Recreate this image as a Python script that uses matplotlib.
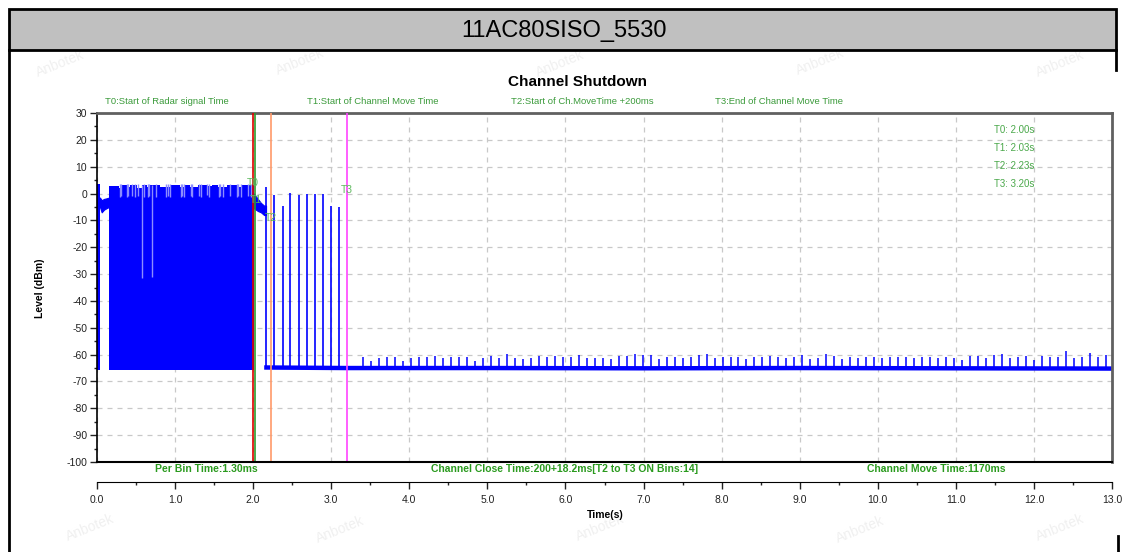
import numpy as np
import matplotlib
matplotlib.use('Agg')
import matplotlib.pyplot as plt
from matplotlib.patches import Rectangle
from matplotlib.lines import Line2D

plt.rcParams['font.family'] = ['Liberation Sans', 'DejaVu Sans']
plt.rcParams['axes.unicode_minus'] = False

# ---- data (time in s, level in dBm) ----
# first column and the low-level segment before the radar burst
start_t = [0.0, 0.038]
start_top = [3.5, -1.5]
pre_t = [0.038, 0.06, 0.09, 0.12, 0.154]
pre_top = [-1.5, -2.5, -2.0, -1.8, -1.5]
pre_bot = [-5.0, -7.0, -6.0, -5.5, -5.0]

# dense radar burst: top envelope (fill goes down to the noise floor)
burst_t = [0.154, 0.286, 0.32, 0.38, 0.423, 0.517, 0.572, 0.645, 0.679, 0.807, 0.892,
           0.935, 1.063, 1.114, 1.191, 1.298, 1.405, 1.469, 1.554, 1.661, 1.789, 1.853, 2.01]
burst_top = [2.8, 2.2, 3.0, 2.4, 3.0, 2.2, 3.0, 2.6, 3.2, 2.6, 2.4,
             3.0, 2.5, 3.2, 2.6, 3.0, 2.8, 3.2, 2.4, 3.0, 2.6, 3.2, 3.2]
burst_floor = -65.7
# narrow gaps in the top of the burst (level drops to about -1 dBm)
gap_t = [0.29, 0.305, 0.39, 0.40, 0.45, 0.49, 0.53, 0.60, 0.65, 0.665, 0.76, 0.89,
         0.91, 0.93, 1.07, 1.09, 1.12, 1.20, 1.22, 1.30, 1.33, 1.41, 1.44, 1.56,
         1.58, 1.62, 1.70, 1.79, 1.81, 1.85, 1.93, 1.97]
gap_low = [-1.2, -1.0, -1.2, -0.8, -1.0, -1.2, -1.0, -1.2, -1.2, -1.0, -1.2, -1.2,
           -1.0, -1.2, -1.2, -1.0, -1.2, -0.8, -1.2, -1.0, -1.2, -0.6, -1.2, -1.2,
           -1.0, -1.2, -1.0, -1.2, -1.0, -1.2, -1.0, -1.2]
dip_t = [0.572, 0.700]
dip_low = [-31.5, -31.0]

# band right after T1
post_t = [2.01, 2.06, 2.10, 2.14, 2.165]
post_top = [0.0, -2.0, -3.5, -4.5, -4.5]
post_bot = [-5.5, -6.5, -7.0, -8.0, -8.0]

# ON bins between T2 and T3
spike_t = [2.17, 2.273, 2.378, 2.478, 2.585, 2.686, 2.788, 2.890, 2.993, 3.098]
spike_top = [2.5, -0.5, -4.6, 0.2, -0.4, -0.2, -0.2, -0.2, -4.6, -5.0]

# noise floor after the channel move
base_t = [2.17, 3.2, 5.0, 7.0, 9.0, 11.0, 13.0]
base_v = [-64.8, -65.0, -65.0, -65.1, -65.0, -65.1, -65.2]

# periodic small peaks on the noise floor (3.41 s ... 12.92 s)
noise_top = [-60.8, -62.2, -61.4, -60.8, -60.8, -62.2, -61.4, -60.8, -60.8, -60.5,
             -61.4, -60.8, -61.0, -61.0, -62.2, -61.4, -60.5, -61.4, -59.8, -61.4,
             -61.7, -61.4, -60.5, -61.0, -60.5, -61.0, -60.8, -60.1, -61.4, -61.4,
             -61.4, -61.7, -60.5, -60.5, -59.8, -60.1, -60.1, -61.7, -61.0, -60.8,
             -61.4, -61.0, -60.1, -59.8, -61.4, -60.8, -61.0, -60.8, -61.7, -60.8,
             -60.8, -60.5, -60.8, -61.4, -60.8, -60.1, -61.7, -61.4, -59.8, -60.5,
             -61.7, -60.8,
             -61.4, -60.8, -60.8, -61.4, -60.8, -61.0, -60.8, -61.4, -60.8, -61.0,
             -61.4, -61.0, -61.4, -62.0, -60.5, -60.5, -61.4, -60.1, -59.8, -61.4,
             -61.0, -60.5, -62.0, -60.5, -61.0, -61.0, -58.6, -61.4, -60.8, -59.5,
             -60.8, -60.1]
noise_t = np.linspace(3.41, 12.92, len(noise_top))

# marker times
t_names = ['T0', 'T1', 'T2', 'T3']
t_times = [2.00, 2.03, 2.23, 3.20]
t_colors = ['#e00000', '#2e9b2e', '#ff9a6a', '#ff44ff']
t_label_y = [4.0, -2.4, -9.0, 1.3]

top_notes = ['T0:Start of Radar signal Time', 'T1:Start of Channel Move Time',
             'T2:Start of Ch.MoveTime +200ms', 'T3:End of Channel Move Time']
top_notes_x = [105, 307, 511, 715]
bottom_notes = ['Per Bin Time:1.30ms', 'Channel Close Time:200+18.2ms[T2 to T3 ON Bins:14]',
                'Channel Move Time:1170ms']
bottom_notes_x = [155, 431, 867]

W, H = 1125, 552
def fx(px):
    return px / W
def fy(py):
    return 1 - py / H

fig = plt.figure(figsize=(W / 100, H / 100), dpi=100)

# page frame / title bar
fig.add_artist(Rectangle((fx(9), fy(50)), fx(1116) - fx(9), fy(9) - fy(50),
                         transform=fig.transFigure, facecolor='#c0c0c0',
                         edgecolor='black', lw=2))
fig.text(fx(564), fy(31), '11AC80SISO_5530', ha='center', va='center', fontsize=17)
fig.add_artist(Line2D([fx(9), fx(9)], [fy(50), 0], transform=fig.transFigure, color='k', lw=2))
fig.add_artist(Line2D([fx(1116), fx(1116)], [fy(50), fy(70)], transform=fig.transFigure, color='k', lw=2))
fig.add_artist(Line2D([fx(1118), fx(1118)], [fy(536), 0], transform=fig.transFigure, color='k', lw=2))

# faint watermarks
for (wx, wy) in [(60, 64), (300, 62), (560, 64), (820, 62), (1060, 64),
                 (90, 528), (340, 530), (600, 528), (860, 530), (1060, 528)]:
    fig.text(fx(wx), fy(wy), 'Anbotek', rotation=22, color='#f0f0f0', fontsize=10,
             ha='center', va='center', zorder=-5)

ax = fig.add_axes([fx(97), fy(462), fx(1112) - fx(97), fy(113) - fy(462)])
ax.set_xlim(0, 13)
ax.set_ylim(-100, 30)

blue = '#0000ff'
# signal
ax.fill_between(start_t, burst_floor, start_top, step='post', color=blue, lw=0, zorder=2)
ax.fill_between(pre_t, pre_bot, pre_top, color=blue, lw=0.8, edgecolor=blue, zorder=2)
ax.fill_between(burst_t, burst_floor, burst_top, step='post', color=blue, lw=0, zorder=2)
ax.vlines(gap_t, gap_low, 3.4, color='#8c8cff', lw=1, zorder=2)
ax.vlines(dip_t, dip_low, 3.0, color='#8c8cff', lw=1, zorder=2)
ax.fill_between(post_t, post_bot, post_top, color=blue, lw=0.8, edgecolor=blue, zorder=2)
ax.plot(base_t, base_v, color=blue, lw=3.2, zorder=2)
ax.vlines(spike_t, -65.5, spike_top, color=blue, lw=1.2, zorder=2)
ax.vlines(noise_t, -65.0, noise_top, color=blue, lw=1.1, zorder=2)

# marker lines
for name, tt, c, ly in zip(t_names, t_times, t_colors, t_label_y):
    ax.axvline(tt, color=c, lw=1.2, zorder=3)
    ax.text(tt, ly, name, color='#5cb85c', fontsize=7.5, ha='center', va='center', zorder=4)
for i, (name, tt) in enumerate(zip(t_names, t_times)):
    ax.text(12.0, 23.7 - i * 6.7, f'{name}: {tt:.2f}s', color='#4aa84a', fontsize=7,
            ha='right', va='center', zorder=4)

# axes styling
ax.grid(True, color='#c8c8c8', ls=(0, (4, 4)), lw=0.9)
ax.set_axisbelow(True)
ax.set_xticks(np.arange(0, 13.01, 1.0))
ax.set_xticks(np.arange(0.5, 13, 1.0), minor=True)
ax.set_yticks(np.arange(-100, 31, 10))
ax.set_yticks(np.arange(-95, 30, 10), minor=True)
ax.set_xticklabels([f'{v:.1f}' for v in np.arange(0, 13.01, 1.0)])
ax.tick_params(axis='both', which='major', labelsize=7.5, colors='#222222', length=5, width=1)
ax.tick_params(axis='both', which='minor', length=2.5, width=1, colors='#222222')
ax.tick_params(axis='x', pad=4)
ax.tick_params(axis='y', pad=2)
ax.spines['bottom'].set_position(('outward', 14.5))
ax.spines['left'].set_color('black')
ax.spines['left'].set_linewidth(1.2)
for s in ['top', 'right']:
    ax.spines[s].set_color('#606060')
    ax.spines[s].set_linewidth(2)
ax.axhline(-100, color='black', lw=1.5, clip_on=False, zorder=5)

# texts
fig.text(fx(578), fy(82), 'Channel Shutdown', ha='center', va='center',
         fontsize=11, fontweight='bold')
for s, x0 in zip(top_notes, top_notes_x):
    fig.text(fx(x0), fy(102), s, ha='left', va='center', fontsize=6.8, color='#3a9a3a')
for s, x0 in zip(bottom_notes, bottom_notes_x):
    fig.text(fx(x0), fy(469), s, ha='left', va='center', fontsize=7.5,
             fontweight='bold', color='#2a9a1e')
fig.text(fx(40), fy(288), 'Level (dBm)', rotation=90, ha='center', va='center',
         fontsize=7.5, fontweight='bold')
fig.text(fx(605), fy(515), 'Time(s)', ha='center', va='center', fontsize=7.5, fontweight='bold')

fig.savefig('out.png', dpi=100)
